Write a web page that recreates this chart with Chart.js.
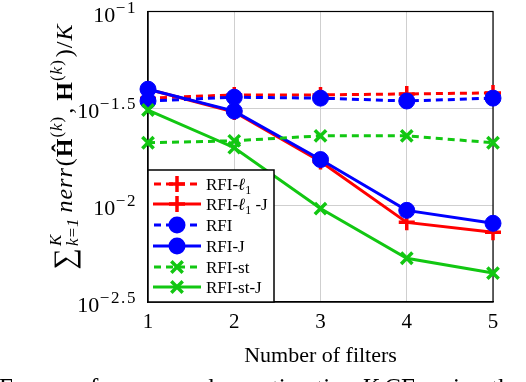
<!DOCTYPE html>
<html>
<head>
<meta charset="utf-8">
<script src="https://cdn.jsdelivr.net/npm/chart.js@4.4.1/dist/chart.umd.min.js"></script>
<style>
  html, body { margin: 0; padding: 0; background: #fff; }
  #wrap { width: 526px; height: 382px; }
</style>
</head>
<body>
<div id="wrap"><canvas id="c" width="526" height="382"></canvas></div>
<script>
// number of filters on the x axis
const filters = ['1', '2', '3', '4', '5'];

// error values (log scale)
const rfiL1   = [0.0357, 0.0371, 0.0371, 0.0375, 0.0380];
const rfiL1J  = [0.0397, 0.0303, 0.0168, 0.00815, 0.00724];
const rfi     = [0.0345, 0.0361, 0.0357, 0.0345, 0.0357];
const rfiJ    = [0.0397, 0.0306, 0.0172, 0.0094, 0.00806];
const rfiSt   = [0.0210, 0.0215, 0.0228, 0.0228, 0.0210];
const rfiStJ  = [0.0310, 0.0198, 0.0096, 0.00532, 0.00446];

// y tick exponents (10^e)
const yTickExps = [-2.5, -2, -1.5, -1];
const yTickText = ['\u22122.5', '\u22122', '\u22121.5', '\u22121'];

const RED = '#ff0000', BLUE = '#0000ff', GREEN = '#12c712';
const SERIF = '"Liberation Serif", "DejaVu Serif", serif';
const DASH = [7, 5];

function ds(label, data, color, dashed, marker) {
  let pointStyle = 'circle', r = 8, bw = 1;
  if (marker === 'plus') { pointStyle = 'cross'; r = 8; bw = 3.5; }
  if (marker === 'x') { pointStyle = 'crossRot'; r = 8; bw = 3.5; }
  return {
    label: label,
    data: data,
    borderColor: color,
    backgroundColor: color,
    pointBackgroundColor: color,
    pointBorderColor: color,
    borderWidth: 3,
    borderDash: dashed ? DASH : [],
    pointStyle: pointStyle,
    pointRadius: r,
    pointBorderWidth: bw,
    tension: 0,
    fill: false,
    clip: false,
    marker: marker,
    dashed: dashed
  };
}

const datasets = [
  ds('RFI-\u2113\u2081', rfiL1, RED, true, 'plus'),
  ds('RFI-\u2113\u2081 -J', rfiL1J, RED, false, 'plus'),
  ds('RFI', rfi, BLUE, true, 'circle'),
  ds('RFI-J', rfiJ, BLUE, false, 'circle'),
  ds('RFI-st', rfiSt, GREEN, true, 'x'),
  ds('RFI-st-J', rfiStJ, GREEN, false, 'x')
];
// later series on top, like pgfplots
datasets.forEach((d, i) => d.order = datasets.length - i);

// draws a run of text pieces, returns the end x
function rich(ctx, pieces, x, y) {
  pieces.forEach(p => {
    if (p.stack) {
      let w = 0;
      p.stack.forEach(s => {
        ctx.font = s.f;
        ctx.fillText(s.t, x, y + s.dy);
        w = Math.max(w, ctx.measureText(s.t).width);
      });
      x += w + (p.gap || 0);
    } else {
      ctx.font = p.f;
      ctx.fillText(p.t, x, y + (p.dy || 0));
      x += ctx.measureText(p.t).width + (p.gap || 0);
    }
  });
  return x;
}
function richWidth(ctx, pieces) {
  let w = 0;
  pieces.forEach(p => {
    if (p.stack) {
      let m = 0;
      p.stack.forEach(s => { ctx.font = s.f; m = Math.max(m, ctx.measureText(s.t).width); });
      w += m;
    } else { ctx.font = p.f; w += ctx.measureText(p.t).width; }
    w += p.gap || 0;
  });
  return w;
}

function marker(ctx, kind, color, x, y) {
  ctx.save();
  ctx.setLineDash([]);
  ctx.strokeStyle = color; ctx.fillStyle = color;
  if (kind === 'circle') {
    ctx.beginPath(); ctx.arc(x, y, 8.5, 0, Math.PI * 2); ctx.fill();
  } else if (kind === 'plus') {
    ctx.lineWidth = 3.5;
    ctx.beginPath();
    ctx.moveTo(x - 8, y); ctx.lineTo(x + 8, y);
    ctx.moveTo(x, y - 8); ctx.lineTo(x, y + 8);
    ctx.stroke();
  } else {
    ctx.lineWidth = 3.5;
    const o = 5.7;
    ctx.beginPath();
    ctx.moveTo(x - o, y - o); ctx.lineTo(x + o, y + o);
    ctx.moveTo(x - o, y + o); ctx.lineTo(x + o, y - o);
    ctx.stroke();
  }
  ctx.restore();
}

const f17 = '17px ' + SERIF, i17 = 'italic 17px ' + SERIF, f12 = '12px ' + SERIF;
const f22 = '22px ' + SERIF;
const f24 = '24px ' + SERIF, i24 = 'italic 24px ' + SERIF, b24 = 'bold 24px ' + SERIF;
const f17s = '17px ' + SERIF, i17s = 'italic 17px ' + SERIF;

const overlay = {
  id: 'overlay',
  beforeDatasetsDraw(chart) {
    const ctx = chart.ctx, a = chart.chartArea;
    ctx.save();
    ctx.strokeStyle = '#000';
    ctx.lineWidth = 1.2;
    ctx.strokeRect(a.left, a.top, a.right - a.left, a.bottom - a.top);
    ctx.restore();
  },
  afterDraw(chart) {
    const ctx = chart.ctx, a = chart.chartArea, ys = chart.scales.y;
    ctx.save();
    ctx.fillStyle = '#000';
    ctx.textBaseline = 'alphabetic';

    // y tick labels 10^e
    yTickExps.forEach((e, i) => {
      const py = ys.getPixelForValue(Math.pow(10, e));
      const exp = yTickText[i].split('').map(ch => ({ t: ch, f: f17s, dy: -9, gap: 1.6 }));
      const pieces = [{ t: '10', f: f22, gap: 0.5 }, ...exp];
      const w = richWidth(ctx, pieces);
      rich(ctx, pieces, a.left - 11 - w, py + 10);
    });

    // y axis title, rotated
    const sup = [{ t: '(', f: f17s, dy: -10, gap: 1 }, { t: 'k', f: i17s, dy: -10, gap: 1 }, { t: ')', f: f17s, dy: -10, gap: 3 }];
    const title = [
      { t: '\u2211', f: '30px ' + SERIF, dy: 2, gap: 2 },
      { stack: [{ t: 'K', f: i17s, dy: -11 }, { t: 'k=1', f: i17s, dy: 6 }], gap: 6 },
      { t: 'n', f: i24, gap: 1 }, { t: 'e', f: i24, gap: 1 }, { t: 'r', f: i24, gap: 1 }, { t: 'r', f: i24, gap: 2 },
      { t: '(', f: f24, gap: 1 },
      { t: '\u0124', f: b24, gap: 1 },
      ...sup,
      { t: ',', f: f24, gap: 7 },
      { t: 'H', f: b24, gap: 1 },
      ...sup,
      { t: ')', f: f24, gap: 1 },
      { t: '/', f: f24, gap: 1 },
      { t: 'K', f: i24 }
    ];
    ctx.save();
    ctx.translate(72, 147);
    ctx.rotate(-Math.PI / 2);
    const tw = richWidth(ctx, title);
    rich(ctx, title, -tw / 2, 0);
    ctx.restore();

    // x axis title
    ctx.font = '22px ' + SERIF;
    ctx.textAlign = 'center';
    ctx.fillText('Number of filters', (a.left + a.right) / 2, 362);

    // caption peeking at the bottom
    ctx.textAlign = 'left';
    rich(ctx, [
      { t: 'Error performance when estimating ', f: '25px ' + SERIF },
      { t: 'K', f: 'italic 25px ' + SERIF },
      { t: ' CFs using the', f: '25px ' + SERIF }
    ], -1, 396);

    // legend box
    const lx = 148, ly = 170, lw = 126, lh = 132;
    ctx.fillStyle = '#fff';
    ctx.fillRect(lx, ly, lw, lh);
    ctx.strokeStyle = '#000';
    ctx.lineWidth = 1.5;
    ctx.strokeRect(lx, ly, lw, lh);
    const rowY = [184, 204, 225, 246, 267, 287];
    chart.data.datasets.forEach((d, i) => {
      const y = rowY[i];
      ctx.save();
      ctx.strokeStyle = d.borderColor;
      ctx.lineWidth = 3;
      ctx.setLineDash(d.dashed ? DASH : []);
      ctx.lineDashOffset = d.dashed ? -1 : 0;
      ctx.beginPath(); ctx.moveTo(153, y); ctx.lineTo(201, y); ctx.stroke();
      ctx.restore();
      marker(ctx, d.marker, d.borderColor, 177, y);
      ctx.fillStyle = '#000';
      let pieces;
      if (i === 0) pieces = [{ t: 'RFI-', f: f17 }, { t: '\u2113', f: i17 }, { t: '1', f: f12, dy: 4 }];
      else if (i === 1) pieces = [{ t: 'RFI-', f: f17 }, { t: '\u2113', f: i17 }, { t: '1', f: f12, dy: 4 }, { t: ' -J', f: f17 }];
      else pieces = [{ t: d.label, f: f17 }];
      rich(ctx, pieces, 206, y + 6);
    });
    ctx.restore();
  }
};

new Chart(document.getElementById('c'), {
  type: 'line',
  data: { labels: filters, datasets: datasets },
  options: {
    responsive: false,
    animation: false,
    devicePixelRatio: 1,
    layout: { padding: { top: 10, right: 33, left: 0, bottom: 0 } },
    plugins: { legend: { display: false }, tooltip: { enabled: false } },
    scales: {
      x: {
        type: 'category',
        offset: false,
        grid: { color: '#cfcfcf', lineWidth: 1, drawTicks: false },
        border: { display: true, color: '#000', width: 1.2 },
        ticks: { color: '#000', font: { family: SERIF, size: 21 }, padding: 8, maxRotation: 0 },
        afterFit(s) { s.height = 80; }
      },
      y: {
        type: 'logarithmic',
        min: Math.pow(10, -2.5),
        max: 0.1,
        grid: { color: '#cfcfcf', lineWidth: 1, drawTicks: false },
        border: { display: true, color: '#000', width: 1.2 },
        ticks: { display: false },
        afterBuildTicks(s) { s.ticks = yTickExps.map(e => ({ value: Math.pow(10, e) })); },
        afterFit(s) { s.width = 148; }
      }
    }
  },
  plugins: [overlay]
});
</script>
</body>
</html>
